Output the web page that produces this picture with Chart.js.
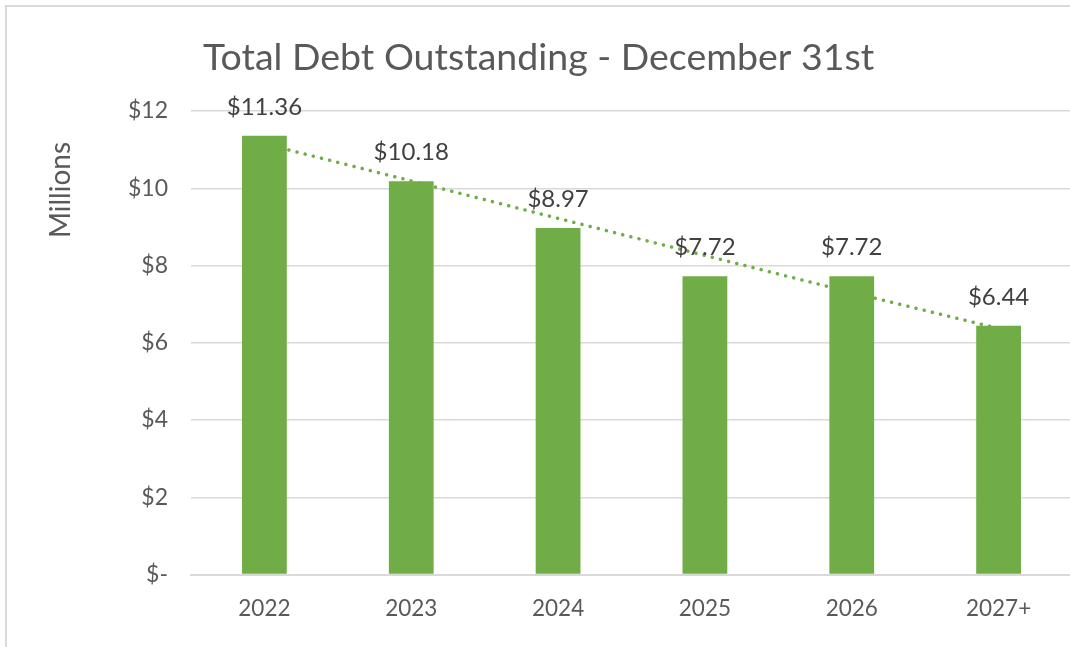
<!DOCTYPE html>
<html>
<head>
<meta charset="utf-8">
<script src="https://cdn.jsdelivr.net/npm/chart.js@4/dist/chart.umd.min.js"></script>
<style>
  html, body { margin: 0; padding: 0; background: #fff; overflow: hidden; }
  #frame {
    position: absolute; left: 5px; top: 5px;
    width: 1100px; height: 660px;
    border: 2px solid #d9d9d9; box-sizing: border-box;
  }
  #wrap { position: absolute; left: 0; top: 0; width: 1080px; height: 647px; }
</style>
</head>
<body>
<div id="frame"></div>
<div id="wrap"><canvas id="debtChart" width="1080" height="647"></canvas></div>
<script>
// ── Datos ──
const years = ["2022", "2023", "2024", "2025", "2026", "2027+"];
const debtMillions = [11.36, 10.18, 8.97, 7.72, 7.72, 6.44];
// línea de tendencia (punteada)
const trendMillions = [11.15, 10.19, 9.22, 8.26, 7.30, 6.37];
const yTicks = [0, 2, 4, 6, 8, 10, 12];

const FONT = "Lato, 'Open Sans', sans-serif";
const GREEN = "#70ad47";
const GREY_TEXT = "#595959";

// título, etiqueta del eje y etiquetas de datos
const extras = {
    id: "extras",
    afterDatasetsDraw(chart) {
        const ctx = chart.ctx;
        ctx.save();
        // etiquetas sobre las barras
        ctx.fillStyle = "#404040";
        ctx.font = "24px " + FONT;
        ctx.textAlign = "center";
        ctx.textBaseline = "alphabetic";
        chart.getDatasetMeta(0).data.forEach((bar, i) => {
            ctx.fillText("$" + debtMillions[i].toFixed(2), bar.x, bar.y - 21);
        });
        ctx.restore();
    },
    afterDraw(chart) {
        const ctx = chart.ctx;
        const area = chart.chartArea;
        ctx.save();
        ctx.fillStyle = GREY_TEXT;
        ctx.font = "37.5px " + FONT;
        ctx.textAlign = "left";
        ctx.textBaseline = "alphabetic";
        ctx.fillText("Total Debt Outstanding - December 31st", 203, 70);

        ctx.translate(61, area.top + 79);
        ctx.rotate(-Math.PI / 2);
        ctx.font = "28px " + FONT;
        ctx.textAlign = "center";
        ctx.textBaseline = "middle";
        ctx.fillText("Millions", 0, 0);
        ctx.restore();
    }
};

new Chart(document.getElementById("debtChart"), {
    type: "bar",
    data: {
        labels: years,
        datasets: [
            {
                type: "bar",
                label: "Debt",
                data: debtMillions,
                backgroundColor: GREEN,
                barPercentage: 0.305,
                categoryPercentage: 1,
                order: 0
            },
            {
                type: "line",
                label: "Trend",
                data: trendMillions,
                borderColor: GREEN,
                borderWidth: 3.5,
                borderDash: [0.1, 8.3],
                borderCapStyle: "round",
                pointRadius: 0,
                fill: false,
                tension: 0,
                order: 1
            }
        ]
    },
    options: {
        responsive: false,
        animation: false,
        layout: { padding: { left: 0, right: 8, top: 111, bottom: 0 } },
        plugins: {
            legend: { display: false },
            title: { display: false },
            tooltip: { enabled: false }
        },
        scales: {
            x: {
                grid: { display: false, drawTicks: false },
                border: { color: "#d9d9d9", width: 2 },
                ticks: {
                    color: GREY_TEXT,
                    font: { family: FONT, size: 22.5 },
                    padding: 21
                },
                afterFit: (s) => { s.height = 72.5; }
            },
            y: {
                min: 0,
                max: 12,
                afterBuildTicks: (s) => { s.ticks = yTicks.map(v => ({ value: v })); },
                grid: { color: "#d9d9d9", lineWidth: 1.5, drawTicks: false },
                border: { display: false },
                ticks: {
                    color: GREY_TEXT,
                    font: { family: FONT, size: 23 },
                    padding: 23,
                    callback: (v) => v === 0 ? "$-" : "$" + v
                },
                afterFit: (s) => { s.width = 191; }
            }
        }
    },
    plugins: [extras]
});
</script>
</body>
</html>
